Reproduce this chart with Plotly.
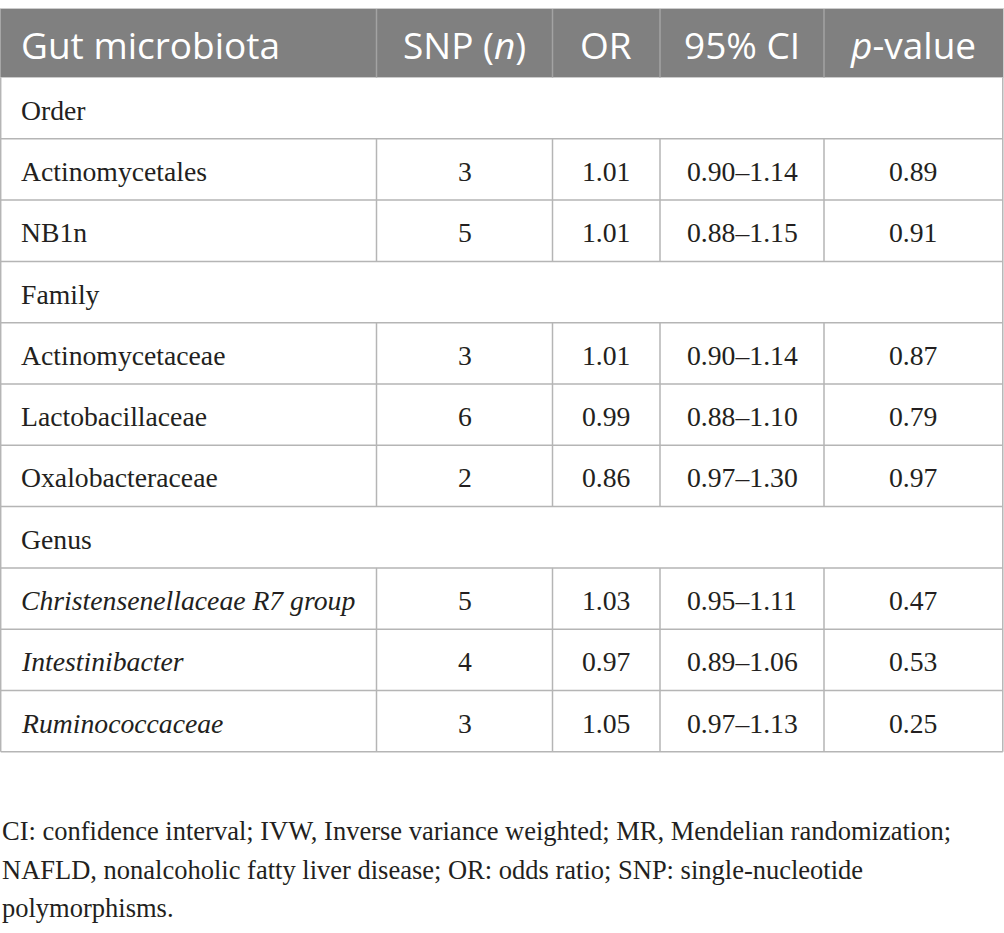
import plotly.graph_objects as go

# ---- data ----
headers = ["Gut microbiota", "SNP (<i>n</i>)", "OR", "95% CI", "<i>p</i>-value"]
row_kind = ["section", "data", "data", "section", "data", "data", "data",
            "section", "data", "data", "data"]
taxa = ["Order", "Actinomycetales", "NB1n", "Family", "Actinomycetaceae",
        "Lactobacillaceae", "Oxalobacteraceae", "Genus",
        "<i>Christensenellaceae R7 group</i>", "<i>Intestinibacter</i>",
        "<i>Ruminococcaceae</i>"]
snp_n = ["", "3", "5", "", "3", "6", "2", "", "5", "4", "3"]
odds_ratio = ["", "1.01", "1.01", "", "1.01", "0.99", "0.86", "", "1.03", "0.97", "1.05"]
ci95 = ["", "0.90–1.14", "0.88–1.15", "", "0.90–1.14", "0.88–1.10", "0.97–1.30",
        "", "0.95–1.11", "0.89–1.06", "0.97–1.13"]
p_value = ["", "0.89", "0.91", "", "0.87", "0.79", "0.97", "", "0.47", "0.53", "0.25"]
footnote_lines = [
    "CI: confidence interval; IVW, Inverse variance weighted; MR, Mendelian randomization;",
    "NAFLD, nonalcoholic fatty liver disease; OR: odds ratio; SNP: single-nucleotide",
    "polymorphisms.",
]

# ---- geometry / style ----
W, H = 1004, 933
col_edges = [0.7, 376.5, 552.5, 660, 824, 1002.8]
top = 8.5
body_top = 77.5
row_h = 61.3
text_left = 21
header_bg = "#808080"
header_sep = "#a3a3a3"
grid = "#b5b5b5"
ink = "#231f20"
serif = "Liberation Serif, Times New Roman, serif"
sans = "Open Sans, Noto Sans, sans-serif"
body_size = 27.7
head_size = 37
foot_size = 26.5

fig = go.Figure()
shapes = []
annotations = []

# header background
shapes.append(dict(type="rect", xref="x", yref="y", x0=col_edges[0] - 0.7, x1=col_edges[-1] + 0.7,
                   y0=top, y1=body_top, fillcolor=header_bg,
                   line=dict(color="#cccccc", width=1), layer="below"))
for xe in col_edges[1:-1]:
    shapes.append(dict(type="line", xref="x", yref="y", x0=xe, x1=xe, y0=top + 0.5,
                       y1=body_top, line=dict(color=header_sep, width=1.5)))

n_rows = len(taxa)
body_bottom = body_top + n_rows * row_h
# outer border of body
for xe in (col_edges[0], col_edges[-1]):
    shapes.append(dict(type="line", xref="x", yref="y", x0=xe, x1=xe,
                       y0=body_top, y1=body_bottom, line=dict(color=grid, width=1.5)))
for i in range(n_rows):
    y0 = body_top + i * row_h
    y1 = y0 + row_h
    shapes.append(dict(type="line", xref="x", yref="y", x0=col_edges[0], x1=col_edges[-1],
                       y0=y1, y1=y1, line=dict(color=grid, width=1.5)))
    if row_kind[i] == "data":
        for xe in col_edges[1:-1]:
            shapes.append(dict(type="line", xref="x", yref="y", x0=xe, x1=xe,
                               y0=y0, y1=y1, line=dict(color=grid, width=1.5)))

# header text
hy = (top + body_top) / 2 + 1
annotations.append(dict(x=text_left - 2, y=hy, xref="x", yref="y", text=headers[0],
                        showarrow=False, xanchor="left", yanchor="middle",
                        font=dict(family=sans, size=head_size, color="white")))
for j in range(1, 5):
    cx = (col_edges[j] + col_edges[j + 1]) / 2
    annotations.append(dict(x=cx, y=hy, xref="x", yref="y", text=headers[j],
                            showarrow=False, xanchor="center", yanchor="middle",
                            font=dict(family=sans, size=head_size, color="white")))

# body text
cols = [snp_n, odds_ratio, ci95, p_value]
for i in range(n_rows):
    cy = body_top + (i + 0.5) * row_h + 2
    annotations.append(dict(x=text_left - 2, y=cy, xref="x", yref="y", text=taxa[i],
                            showarrow=False, xanchor="left", yanchor="middle",
                            font=dict(family=serif, size=body_size, color=ink)))
    for j, col in enumerate(cols):
        if col[i]:
            cx = (col_edges[j + 1] + col_edges[j + 2]) / 2
            annotations.append(dict(x=cx, y=cy, xref="x", yref="y", text=col[i],
                                    showarrow=False, xanchor="center", yanchor="middle",
                                    font=dict(family=serif, size=body_size, color=ink)))

# footnote
foot_y0 = 831
foot_dy = 38.5
for k, line in enumerate(footnote_lines):
    annotations.append(dict(x=0, y=foot_y0 + k * foot_dy, xref="x", yref="y",
                            text=line, showarrow=False, xanchor="left", yanchor="middle",
                            font=dict(family=serif, size=foot_size, color=ink)))

fig.update_layout(
    width=W, height=H,
    margin=dict(l=0, r=0, t=0, b=0),
    paper_bgcolor="white", plot_bgcolor="white",
    xaxis=dict(range=[0, W], visible=False, fixedrange=True),
    yaxis=dict(range=[H, 0], visible=False, fixedrange=True),
    shapes=shapes, annotations=annotations, showlegend=False,
)
fig.write_html("out.html", config={"displayModeBar": False},
               post_script="document.body.style.margin='0';document.body.style.overflow='hidden';")
